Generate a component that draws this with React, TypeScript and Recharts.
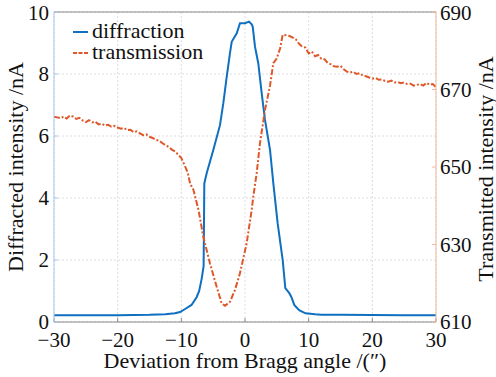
import React from 'react';
import { LineChart, Line, XAxis, YAxis, CartesianGrid, ReferenceLine, Legend } from 'recharts';

// Axis ticks
const xTicks = [-30, -20, -10, 0, 10, 20, 30];
const leftTicks = [0, 2, 4, 6, 8, 10];
const rightTicks = [610, 630, 650, 670, 690];

// Diffracted intensity (nA) vs deviation (arcsec)
const diffAngle = [
  -30, -25, -20, -15, -12.5, -11, -10.2, -9.4, -8.4, -7.6, -7.2, -6.8, -6.5, -6.39, -6.02,
  -4.98, -3.93, -3.41, -2.88, -2.36, -2.09, -1.3, -0.79, 0, 0.63, 1.05, 1.21, 1.57, 2.09,
  2.62, 3.14, 3.93, 4.45, 5.13, 5.92, 6.33, 6.96, 7.3, 7.74, 8.5, 9.5, 11, 12, 15, 20, 25, 30,
];
const diffCurrent = [
  0.22, 0.22, 0.22, 0.23, 0.25, 0.28, 0.32, 0.42, 0.55, 0.8, 1.0, 1.4, 1.8, 4.47, 4.8,
  5.55, 6.35, 7.05, 7.9, 8.67, 9.04, 9.31, 9.64, 9.64, 9.69, 9.6, 9.53, 8.88, 8.34,
  7.38, 6.52, 5.55, 4.47, 3.18, 2.0, 1.09, 0.93, 0.8, 0.55, 0.38, 0.28, 0.25, 0.236, 0.23,
  0.225, 0.22, 0.22,
];

// Transmitted intensity (nA) vs deviation (arcsec)
const transAngle = [
  -30, -29.5, -29, -28.5, -28, -27.5, -27, -26.5, -26, -25.5, -25, -24.5, -24, -23.5, -23,
  -22.5, -22, -21.5, -21, -20.5, -20, -19.5, -19, -18.5, -18, -17.5, -17, -16.5, -16, -15.5,
  -15, -14.5, -14, -13.5, -13, -12.5, -12, -11.5, -11, -10.5, -10, -9.5, -9, -8.6, -8.1,
  -7.3, -6.55, -5.5, -4.45, -3.66, -3.14, -2.36, -1.57, -0.79, 0.26, 1.05, 1.3, 1.84, 2.35,
  3.14, 3.93, 4.45, 4.98, 5.5, 5.92, 6.5, 7.0, 7.5, 8.0, 8.5, 9.0, 9.5, 10, 10.5, 11, 11.5, 12,
  12.5, 13, 13.5, 14, 14.5, 15, 15.5, 16, 16.5, 17, 17.5, 18, 18.5, 19, 19.5, 20, 20.5, 21,
  21.5, 22, 22.5, 23, 23.5, 24, 24.5, 25, 25.5, 26, 26.5, 27, 27.5, 28, 28.5, 29, 29.5, 30,
];
const transCurrent = [
  663.0, 662.8, 662.6, 663.0, 662.5, 663.3, 663.0, 662.4, 662.7, 662.0, 661.6, 662.1, 661.5,
  661.7, 661.0, 661.2, 660.7, 660.9, 660.4, 660.6, 660.2, 659.9, 660.1, 659.5, 659.6, 659.0,
  659.2, 658.7, 658.2, 658.4, 657.8, 657.5, 657.0, 656.8, 656.2, 655.6, 655.2, 654.5, 654.0,
  653.2, 652.3, 650.5, 648.6, 645.6, 644.1, 638.9, 632.0, 625.1, 619.1, 614.8, 614.2, 615.2,
  618.3, 622.6, 630.3, 638.9, 642.3, 648.5, 656.1, 664.7, 671.0, 676.8, 678.0, 680.5, 684.1,
  684.0, 683.8, 683.4, 682.9, 681.8, 681.0, 680.8, 679.3, 679.8, 678.6, 678.9, 677.9, 677.8,
  676.8, 676.5, 676.0, 675.9, 676.1, 675.2, 674.6, 674.4, 674.6, 674.0, 674.2, 673.6, 673.4,
  673.1, 672.8, 673.0, 672.5, 672.6, 672.2, 672.0, 672.3, 671.8, 671.9, 671.6, 671.8, 671.4,
  671.5, 671.0, 671.2, 671.4, 671.0, 671.7, 671.2, 671.4, 670.6,
];

const diffData = diffAngle.map((x, i) => ({ x, y: diffCurrent[i] }));
const transData = transAngle.map((x, i) => ({ x, y: transCurrent[i] }));

const BLUE = '#0f6fc0';
const ORANGE = '#e0582a';
const INK = '#111';
const FONT = 'Liberation Serif, DejaVu Serif, serif';
const TRANS_DASH = '6 2 2 2';

const tickStyle = { fill: INK, fontSize: 21, fontFamily: FONT };
const fmt = (v: number) => (v < 0 ? `\u2212${Math.abs(v)}` : `${v}`);

const LeftTitle = ({ viewBox }: any) => {
  const cx = viewBox.x + 15;
  const cy = viewBox.y + viewBox.height / 2;
  return (
    <text x={cx} y={cy} transform={`rotate(-90 ${cx} ${cy})`} textAnchor="middle"
      dominantBaseline="central" fill={INK} style={{ fontSize: 22, fontFamily: FONT }}>
      Diffracted intensity /nA
    </text>
  );
};

const RightTitle = ({ viewBox }: any) => {
  const cx = viewBox.x + 49;
  const cy = viewBox.y + viewBox.height / 2 + 2;
  return (
    <text x={cx} y={cy} transform={`rotate(-90 ${cx} ${cy})`} textAnchor="middle"
      dominantBaseline="central" fill={INK} style={{ fontSize: 22, fontFamily: FONT }}>
      Transmitted intensity /nA
    </text>
  );
};

const BottomTitle = ({ viewBox }: any) => {
  const cx = viewBox.x + viewBox.width / 2;
  return (
    <text x={cx} y={viewBox.y + 46} textAnchor="middle" fill={INK} style={{ fontSize: 22, fontFamily: FONT }}>
      Deviation from Bragg angle /(″)
    </text>
  );
};

const LegendBox = ({ payload }: any) => (
  <svg width={170} height={54}>
    {(payload || []).map((entry: any, i: number) => (
      <g key={entry.value}>
        <line x1={3} x2={18} y1={14 + i * 21} y2={14 + i * 21} stroke={entry.color} strokeWidth={2}
          strokeDasharray={i === 1 ? '4 1.5' : undefined} />
        <text x={22} y={20 + i * 21} fill={INK} style={{ fontSize: 22, fontFamily: FONT }}>{entry.value}</text>
      </g>
    ))}
  </svg>
);

export default function App() {
  return (
    <div style={{ position: 'absolute', left: 0, top: 0, width: 496, height: 377, background: '#fff', fontFamily: FONT }}>
      <LineChart width={496} height={377} margin={{ top: 12, right: 0, bottom: 0, left: 0 }} style={{ fontFamily: FONT }}>
        <CartesianGrid yAxisId="left" stroke="#dddddd" strokeDasharray="2 2" />
        <XAxis dataKey="x" type="number" domain={[-30, 30]} ticks={xTicks} height={55}
          allowDataOverflow stroke="#8a8a8a" tickSize={-4} tickMargin={14} tick={tickStyle}
          tickFormatter={fmt} label={{ content: (p: any) => <BottomTitle {...p} /> }} />
        <YAxis yAxisId="left" orientation="left" domain={[0, 10]} ticks={leftTicks} width={54}
          allowDataOverflow stroke="#a8c8ea" tickSize={-4} tickMargin={9} tick={tickStyle}
          label={{ content: (p: any) => <LeftTitle {...p} /> }} />
        <YAxis yAxisId="right" orientation="right" domain={[610, 690]} ticks={rightTicks} width={60}
          allowDataOverflow stroke="#f2b8a0" tickSize={-4} tickMargin={8} tick={tickStyle}
          label={{ content: (p: any) => <RightTitle {...p} /> }} />
        <ReferenceLine yAxisId="left" y={10} stroke="#8a8a8a" />
        <Legend layout="vertical" align="center" verticalAlign="middle"
          wrapperStyle={{ top: 18, left: 70, width: 170, height: 54 }} content={<LegendBox />} />
        <Line data={diffData} yAxisId="left" dataKey="y" name="diffraction" stroke={BLUE}
          strokeWidth={2} dot={false} isAnimationActive={false} type="linear" />
        <Line data={transData} yAxisId="right" dataKey="y" name="transmission" stroke={ORANGE}
          strokeWidth={2} strokeDasharray={TRANS_DASH} dot={false} isAnimationActive={false} type="linear" />
      </LineChart>
    </div>
  );
}
